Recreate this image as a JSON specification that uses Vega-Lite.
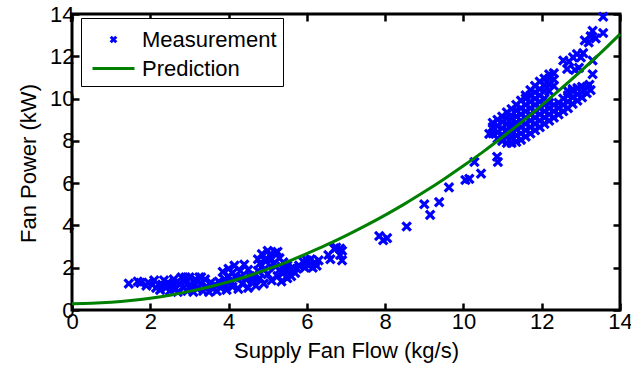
{
  "$schema": "https://vega.github.io/schema/vega-lite/v6.json",
  "width": 548,
  "height": 296,
  "autosize": {"type": "none"},
  "padding": {"left": 72, "top": 14, "right": 11, "bottom": 58},
  "background": "white",
  "config": {
    "view": {"stroke": "black", "strokeWidth": 3, "fill": null},
    "font": "Liberation Sans",
    "axis": {
      "domain": false, "grid": false, "labelFlush": false, "ticks": true, "zindex": 1,
      "labelFont": "Liberation Sans", "labelFontSize": 22, "labelColor": "black",
      "titleFont": "Liberation Sans", "titleFontSize": 22, "titleColor": "black", "titleFontWeight": "normal",
      "tickColor": "black", "tickWidth": 2.5, "tickSize": -7
    },
    "legend": {
      "orient": "none", "legendX": 9, "legendY": 4,
      "strokeColor": "black", "fillColor": "white",
      "padding": 6, "rowPadding": 2, "labelFont": "Liberation Sans", "labelFontSize": 22, "labelColor": "black",
      "labelOffset": 13, "symbolOffset": 11, "symbolSize": 784, "symbolStrokeWidth": 3, "symbolOpacity": 1
    }
  },
  "datasets": {
    "meas": [
      {"x":1.45,"y":1.25},{"x":1.68,"y":1.35},{"x":1.75,"y":1.28},
      {"x":1.9,"y":1.15},{"x":1.95,"y":1.3},{"x":2.05,"y":1.2},{"x":2.1,"y":1.4},{"x":2.15,"y":1.05},
      {"x":2.25,"y":0.95},{"x":2.3,"y":1.2},{"x":2.35,"y":1.4},{"x":2.4,"y":1.05},{"x":2.45,"y":1.3},{"x":2.5,"y":0.9},{"x":2.55,"y":1.15},{"x":2.6,"y":1.45},{"x":2.65,"y":1.0},
      {"x":2.7,"y":0.85},{"x":2.75,"y":1.25},{"x":2.8,"y":1.55},{"x":2.85,"y":1.05},{"x":2.9,"y":1.35},{"x":2.95,"y":0.9},{"x":3.0,"y":1.55},{"x":3.05,"y":1.15},{"x":3.1,"y":0.85},{"x":3.15,"y":1.45},{"x":3.2,"y":1.0},{"x":3.25,"y":1.55},{"x":3.3,"y":1.25},{"x":3.35,"y":0.9},
      {"x":3.0,"y":1.1},{"x":3.15,"y":1.2},{"x":2.9,"y":1.55},{"x":3.3,"y":1.55},{"x":2.6,"y":1.25},
      {"x":3.4,"y":1.45},{"x":3.45,"y":1.1},{"x":3.5,"y":0.85},{"x":3.55,"y":1.3},{"x":3.6,"y":1.0},{"x":3.65,"y":1.2},{"x":3.7,"y":0.9},{"x":3.75,"y":1.35},{"x":3.8,"y":1.05},
      {"x":3.85,"y":1.8},{"x":3.9,"y":1.2},{"x":3.95,"y":0.95},{"x":4.0,"y":1.95},{"x":4.05,"y":1.35},{"x":4.1,"y":1.1},{"x":4.15,"y":2.1},{"x":4.2,"y":1.5},{"x":4.25,"y":1.0},{"x":4.3,"y":1.85},{"x":4.35,"y":1.25},{"x":4.4,"y":2.15},{"x":4.45,"y":1.45},{"x":4.5,"y":1.05},{"x":4.5,"y":1.9},
      {"x":3.9,"y":1.45},{"x":4.0,"y":1.6},{"x":4.1,"y":1.75},{"x":4.3,"y":1.55},{"x":4.55,"y":1.6},
      {"x":4.6,"y":1.3},{"x":4.65,"y":1.65},{"x":4.7,"y":1.15},{"x":4.75,"y":2.4},{"x":4.8,"y":1.5},{"x":4.8,"y":2.2},{"x":4.85,"y":2.65},{"x":4.9,"y":1.25},{"x":4.95,"y":2.3},{"x":5.0,"y":1.7},{"x":5.0,"y":2.8},{"x":5.05,"y":2.6},{"x":5.1,"y":1.4},{"x":5.1,"y":2.4},{"x":5.15,"y":2.2},{"x":5.2,"y":2.7},{"x":5.25,"y":1.6},{"x":5.25,"y":2.75},{"x":5.3,"y":1.9},{"x":5.3,"y":2.45},
      {"x":4.6,"y":1.45},{"x":4.75,"y":1.85},{"x":4.9,"y":1.9},{"x":5.2,"y":2.05},{"x":5.4,"y":2.25},
      {"x":5.35,"y":1.35},{"x":5.4,"y":1.75},{"x":5.45,"y":2.0},{"x":5.5,"y":1.5},{"x":5.55,"y":1.85},{"x":5.6,"y":1.6},{"x":5.65,"y":2.0},{"x":5.7,"y":1.75},
      {"x":5.5,"y":2.1},{"x":5.6,"y":1.95},{"x":5.75,"y":1.95},{"x":5.8,"y":2.1},
      {"x":5.9,"y":2.3},{"x":5.95,"y":2.0},{"x":6.0,"y":2.35},{"x":6.05,"y":2.1},{"x":6.1,"y":2.4},{"x":6.15,"y":2.0},{"x":6.2,"y":2.25},{"x":6.25,"y":2.1},{"x":6.3,"y":2.35},
      {"x":6.55,"y":2.6},{"x":6.6,"y":2.4},{"x":6.7,"y":2.9},{"x":6.75,"y":2.95},{"x":6.85,"y":2.9},{"x":6.85,"y":2.6},{"x":6.9,"y":2.35},{"x":6.9,"y":2.8},
      {"x":7.85,"y":3.5},{"x":7.95,"y":3.3},{"x":8.05,"y":3.4},{"x":8.55,"y":3.95},{"x":9.0,"y":5.0},{"x":9.15,"y":4.5},{"x":9.38,"y":5.1},{"x":9.63,"y":5.8},{"x":10.05,"y":6.15},{"x":10.15,"y":6.2},{"x":10.45,"y":6.45},{"x":10.28,"y":7.0},{"x":10.86,"y":7.25},{"x":10.88,"y":7.0},{"x":10.66,"y":8.33},
      {"x":10.75,"y":8.35},{"x":10.75,"y":8.65},{"x":10.75,"y":8.85},
      {"x":10.87,"y":8.1},{"x":10.87,"y":8.4},{"x":10.87,"y":8.7},{"x":10.87,"y":9.0},
      {"x":10.99,"y":8.0},{"x":10.99,"y":8.3},{"x":10.99,"y":8.6},{"x":10.99,"y":8.9},{"x":10.99,"y":9.15},
      {"x":11.11,"y":7.9},{"x":11.11,"y":8.2},{"x":11.11,"y":8.5},{"x":11.11,"y":8.8},{"x":11.11,"y":9.1},{"x":11.11,"y":9.35},
      {"x":11.23,"y":7.9},{"x":11.23,"y":8.2},{"x":11.23,"y":8.5},{"x":11.23,"y":8.8},{"x":11.23,"y":9.1},{"x":11.23,"y":9.5},
      {"x":11.35,"y":7.95},{"x":11.35,"y":8.25},{"x":11.35,"y":8.55},{"x":11.35,"y":8.85},{"x":11.35,"y":9.15},{"x":11.35,"y":9.45},{"x":11.35,"y":9.7},
      {"x":11.47,"y":8.05},{"x":11.47,"y":8.35},{"x":11.47,"y":8.65},{"x":11.47,"y":8.95},{"x":11.47,"y":9.25},{"x":11.47,"y":9.55},{"x":11.47,"y":9.9},
      {"x":11.59,"y":8.2},{"x":11.59,"y":8.5},{"x":11.59,"y":8.8},{"x":11.59,"y":9.1},{"x":11.59,"y":9.4},{"x":11.59,"y":9.7},{"x":11.59,"y":10.0},{"x":11.59,"y":10.15},
      {"x":11.71,"y":8.35},{"x":11.71,"y":8.65},{"x":11.71,"y":8.95},{"x":11.71,"y":9.25},{"x":11.71,"y":9.55},{"x":11.71,"y":9.85},{"x":11.71,"y":10.15},{"x":11.71,"y":10.4},
      {"x":11.83,"y":8.5},{"x":11.83,"y":8.8},{"x":11.83,"y":9.1},{"x":11.83,"y":9.4},{"x":11.83,"y":9.7},{"x":11.83,"y":10.0},{"x":11.83,"y":10.3},{"x":11.83,"y":10.6},
      {"x":11.95,"y":8.65},{"x":11.95,"y":8.95},{"x":11.95,"y":9.25},{"x":11.95,"y":9.55},{"x":11.95,"y":9.85},{"x":11.95,"y":10.15},{"x":11.95,"y":10.45},{"x":11.95,"y":10.8},
      {"x":12.07,"y":8.8},{"x":12.07,"y":9.1},{"x":12.07,"y":9.4},{"x":12.07,"y":9.7},{"x":12.07,"y":10.0},{"x":12.07,"y":10.35},{"x":12.07,"y":10.65},{"x":12.07,"y":10.95},
      {"x":12.19,"y":8.95},{"x":12.19,"y":9.25},{"x":12.19,"y":9.55},{"x":12.19,"y":9.8},{"x":12.19,"y":10.35},{"x":12.19,"y":10.65},{"x":12.19,"y":10.95},{"x":12.19,"y":11.15},
      {"x":12.31,"y":9.1},{"x":12.31,"y":9.4},{"x":12.31,"y":9.7},{"x":12.31,"y":10.6},{"x":12.31,"y":10.9},{"x":12.31,"y":11.2},
      {"x":12.43,"y":9.25},{"x":12.43,"y":9.55},{"x":12.43,"y":9.8},
      {"x":12.55,"y":9.4},{"x":12.55,"y":9.7},{"x":12.55,"y":10.0},
      {"x":12.67,"y":9.55},{"x":12.67,"y":9.85},{"x":12.67,"y":10.15},{"x":12.67,"y":10.35},
      {"x":12.79,"y":9.75},{"x":12.79,"y":10.05},{"x":12.79,"y":10.35},{"x":12.79,"y":10.45},
      {"x":12.91,"y":9.9},{"x":12.91,"y":10.2},{"x":12.91,"y":10.5},
      {"x":13.03,"y":10.05},{"x":13.03,"y":10.3},{"x":13.03,"y":10.55},
      {"x":13.15,"y":10.25},{"x":13.15,"y":10.55},{"x":13.25,"y":10.4},{"x":13.22,"y":10.65},
      {"x":12.55,"y":11.8},{"x":12.7,"y":11.75},{"x":12.8,"y":11.95},{"x":12.9,"y":12.1},{"x":13.0,"y":11.95},{"x":13.06,"y":12.15},{"x":12.85,"y":11.35},{"x":12.95,"y":11.45},{"x":12.65,"y":11.4},{"x":13.3,"y":11.15},{"x":13.3,"y":11.8},
      {"x":13.1,"y":12.75},{"x":13.2,"y":12.65},{"x":13.25,"y":12.95},{"x":13.3,"y":13.2},{"x":13.38,"y":12.85},{"x":13.57,"y":13.1},{"x":13.57,"y":13.87}
    ],
    "pred": [
      {"x":0,"y":0.30},{"x":0.5,"y":0.32},{"x":1,"y":0.37},{"x":1.5,"y":0.45},{"x":2,"y":0.56},{"x":2.5,"y":0.70},{"x":3,"y":0.88},{"x":3.5,"y":1.09},{"x":4,"y":1.33},{"x":4.5,"y":1.61},{"x":5,"y":1.93},{"x":5.5,"y":2.28},{"x":6,"y":2.67},{"x":6.5,"y":3.08},{"x":7,"y":3.52},{"x":7.5,"y":3.99},{"x":8,"y":4.49},{"x":8.5,"y":5.02},{"x":9,"y":5.59},{"x":9.5,"y":6.19},{"x":10,"y":6.82},{"x":10.5,"y":7.48},{"x":11,"y":8.18},{"x":11.5,"y":8.91},{"x":12,"y":9.68},{"x":12.5,"y":10.48},{"x":13,"y":11.3},{"x":13.5,"y":12.15},{"x":14,"y":13.05}
    ]
  },
  "resolve": {"axis": {"x": "independent", "y": "independent"}},
  "layer": [
    {
      "data": {"name": "meas"},
      "transform": [{"calculate": "'Measurement'", "as": "series"}],
      "mark": {"type": "point", "filled": false, "strokeWidth": 3.2, "size": 1764, "opacity": 1},
      "encoding": {
        "x": {"field": "x", "type": "quantitative", "scale": {"domain": [0, 14], "nice": false},
              "axis": {"orient": "bottom", "values": [0, 2, 4, 6, 8, 10, 12, 14], "title": "Supply Fan Flow (kg/s)", "labelPadding": 8, "titleY": 47, "titleBaseline": "alphabetic"}},
        "y": {"field": "y", "type": "quantitative", "scale": {"domain": [0, 14], "nice": false},
              "axis": {"orient": "left", "values": [0, 2, 4, 6, 8, 10, 12, 14], "title": "Fan Power (kW)", "labelPadding": 5, "titleX": -37, "titleY": 149, "titleBaseline": "alphabetic", "titleAngle": -90}},
        "color": {"field": "series", "type": "nominal",
                  "scale": {"domain": ["Measurement", "Prediction"], "range": ["#0000ff", "#008000"]},
                  "legend": {"title": null, "encode": {"legend": {"update": {"strokeWidth": {"value": 2.5}}}}}},
        "shape": {"field": "series", "type": "nominal",
                  "scale": {"domain": ["Measurement", "Prediction"], "range": ["M-0.2,-0.2L0.2,0.2M-0.2,0.2L0.2,-0.2", "M-1.5,0L1.5,0"]},
                  "legend": {"title": null, "encode": {"legend": {"update": {"strokeWidth": {"value": 2.5}}}}}}
      }
    },
    {
      "data": {"name": "pred"},
      "transform": [{"calculate": "'Prediction'", "as": "series"}],
      "mark": {"type": "line", "strokeWidth": 3, "interpolate": "monotone"},
      "encoding": {
        "x": {"field": "x", "type": "quantitative", "axis": {"orient": "top", "values": [0, 2, 4, 6, 8, 10, 12, 14], "labels": false, "title": null}},
        "y": {"field": "y", "type": "quantitative", "axis": {"orient": "right", "values": [0, 2, 4, 6, 8, 10, 12, 14], "labels": false, "title": null}},
        "color": {"field": "series", "type": "nominal"}
      }
    }
  ]
}
